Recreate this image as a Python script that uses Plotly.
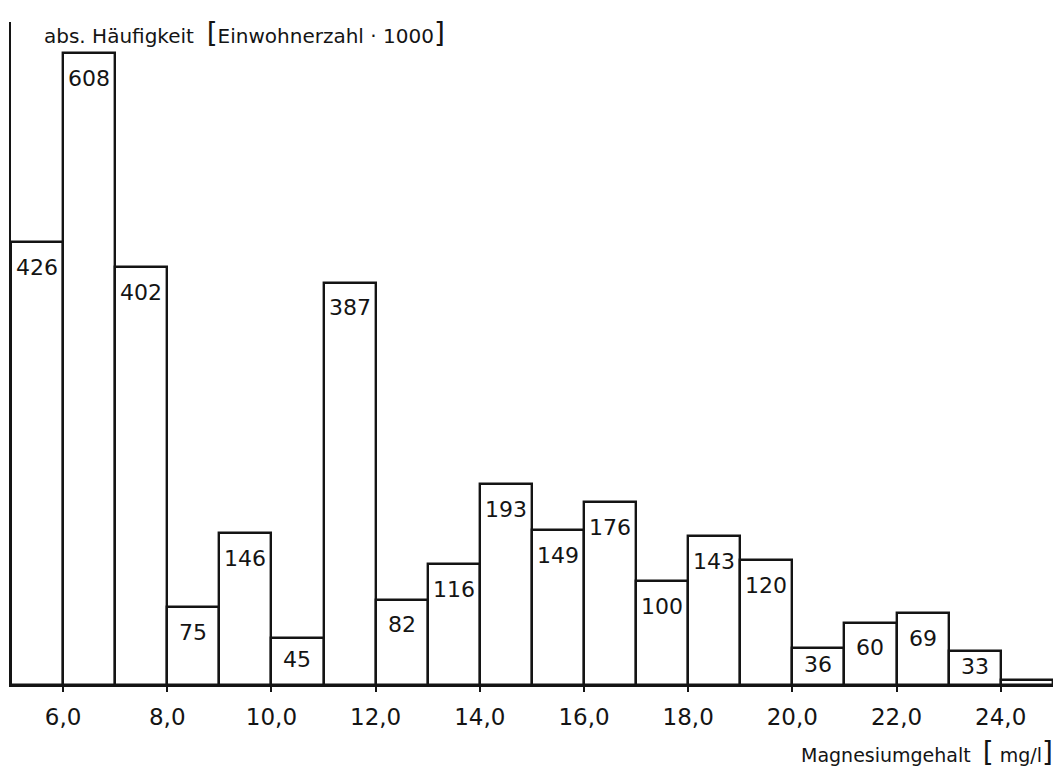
import plotly.graph_objects as go

# Data
bin_left = list(range(5, 25))  # class lower bounds in mg/l
values = [426, 608, 402, 75, 146, 45, 387, 82, 116, 193,
          149, 176, 100, 143, 120, 36, 60, 69, 33, 5]
labels = ["426", "608", "402", "75", "146", "45", "387", "82", "116", "193",
          "149", "176", "100", "143", "120", "36", "60", "69", "33", ""]
tick_vals = [6, 8, 10, 12, 14, 16, 18, 20, 22, 24]
tick_text = ["6,0", "8,0", "10,0", "12,0", "14,0", "16,0", "18,0", "20,0", "22,0", "24,0"]

INK = "#141414"
FONT = "DejaVu Sans"

centers = [b + 0.5 for b in bin_left]

fig = go.Figure()
fig.add_trace(go.Bar(
    x=centers, y=values, width=[1] * len(values),
    marker=dict(color="white", line=dict(color=INK, width=2.4)),
    hoverinfo="skip",
))

Y_MAX = 638
plot_h = 761 - 14 - 84
px_per_unit = plot_h / Y_MAX

annotations = []
for c, v, lab in zip(centers, values, labels):
    if not lab:
        continue
    h = v * px_per_unit
    annotations.append(dict(
        x=c, y=v, xref="x", yref="y", text=lab, showarrow=False,
        yanchor="middle", xanchor="center", yshift=-min(25, 0.45 * h),
        font=dict(family=FONT, size=22, color=INK),
    ))

annotations.append(dict(
    xref="paper", yref="paper", x=31 / 1047, y=1, xanchor="left", yanchor="middle",
    yshift=-11, showarrow=False,
    text="abs. Häufigkeit  <span style='font-size:28px'>[</span>Einwohnerzahl · 1000<span style='font-size:28px'>]</span>",
    font=dict(family=FONT, size=20, color=INK),
))
annotations.append(dict(
    xref="paper", yref="paper", x=1044 / 1047, y=0, xanchor="right", yanchor="middle",
    yshift=-67, showarrow=False,
    text="Magnesiumgehalt  <span style='font-size:28px'>[</span> mg/l<span style='font-size:28px'>]</span>",
    font=dict(family=FONT, size=19, color=INK),
))

fig.update_layout(
    width=1053, height=761,
    margin=dict(l=3, r=3, t=14, b=84),
    paper_bgcolor="white", plot_bgcolor="white",
    bargap=0, showlegend=False,
    annotations=annotations,
    xaxis=dict(
        range=[5, 25.1], tickmode="array", tickvals=tick_vals, ticktext=tick_text,
        showgrid=False, zeroline=False, showline=True, linecolor=INK, linewidth=2.4,
        ticks="outside", ticklen=5, tickwidth=2, tickcolor=INK,
        tickfont=dict(family=FONT, size=23, color=INK), ticklabelstandoff=5,
    ),
    yaxis=dict(
        range=[0, Y_MAX], showgrid=False, zeroline=False, showline=True,
        linecolor=INK, linewidth=2.4, showticklabels=False, ticks="",
    ),
)

fig.write_html("out.html")
